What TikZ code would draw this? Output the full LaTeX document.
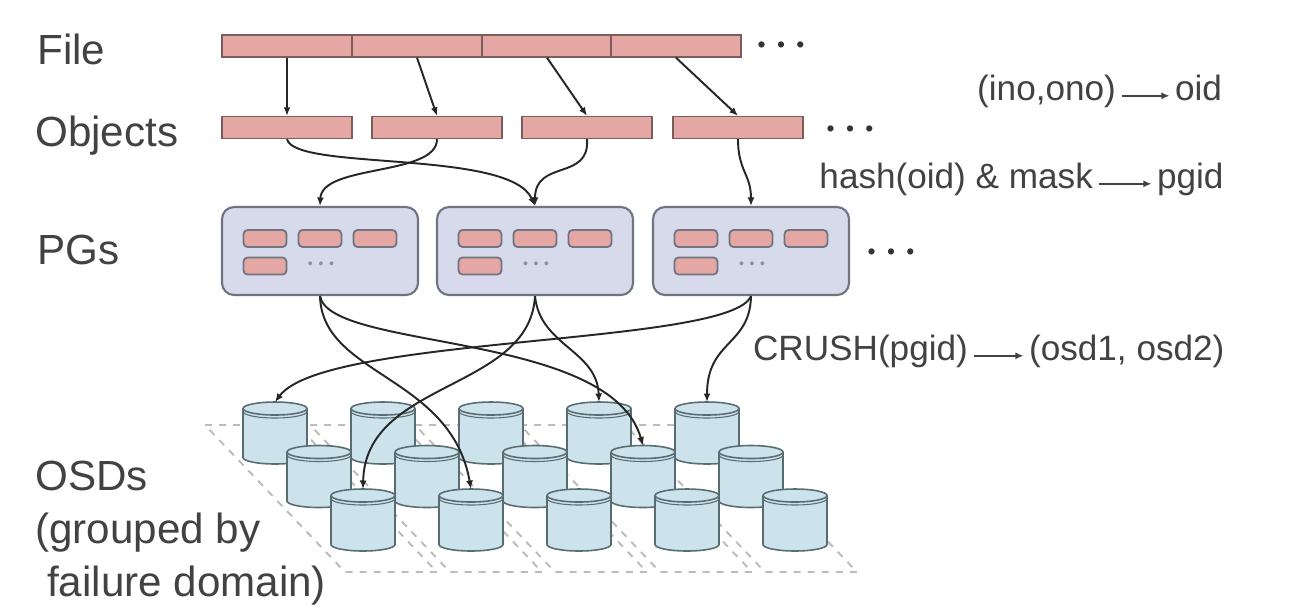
\documentclass[tikz,border=0pt]{standalone}
\usepackage{fontspec}
\setmainfont{Liberation Sans}
\definecolor{barpink}{RGB}{228,167,164}
\definecolor{barline}{RGB}{125,92,92}
\definecolor{pglav}{RGB}{214,218,234}
\definecolor{pgline}{RGB}{112,115,128}
\definecolor{osdblue}{RGB}{205,227,235}
\definecolor{osdline}{RGB}{88,108,114}
\definecolor{inkgray}{RGB}{66,66,66}
\definecolor{gridgray}{RGB}{188,188,188}
\colorlet{linkcol}{black!85}
\usepackage{tikz}
\usetikzlibrary{calc, positioning, arrows.meta, shapes.geometric}

\tikzset{
    bigtext/.style={font=\fontsize{24}{30}\selectfont, text=inkgray, inner sep=0pt},
    maptext/.style={font=\fontsize{20}{24}\selectfont, text=inkgray, inner sep=1pt, text height=1.2ex, text depth=.3ex},
    moredots/.style={font=\fontsize{13}{14}\selectfont, text=black!80, inner sep=0pt},
    tinydots/.style={font=\fontsize{8}{10}\selectfont, text=pgline!80, inner sep=0pt},
    databar/.style={draw=barline, fill=barpink, line width=0.8pt, minimum width=2.6cm, minimum height=0.44cm, inner sep=0pt},
    innerbar/.style={draw=pgline, fill=barpink, line width=1pt, rounded corners=0.08cm},
    pgbox/.style={draw=pgline, fill=pglav, line width=1.2pt, rounded corners=0.24cm, minimum width=3.92cm, minimum height=1.76cm, inner sep=0pt},
    osddisk/.style={rectangle, minimum width=1.28cm, minimum height=1.24cm, inner sep=0pt, outer sep=0pt},
    osdshell/.style={draw=osdline, fill=osdblue, line width=0.9pt},
    osdrim/.style={draw=osdline, line width=0.9pt},
    flow/.style={draw=linkcol, line width=1.1pt, -{Latex[length=1.7mm,width=1.4mm]}},
    maplink/.style={draw=inkgray, line width=1pt, -{Latex[length=1.6mm,width=1.4mm]}, shorten <=2pt, shorten >=2pt},
    faultzone/.style={draw=gridgray, line width=1.1pt, dash pattern=on 4pt off 4pt}
}

\begin{document}
\begin{tikzpicture}[x=0.02cm, y=-0.02cm]
    \useasboundingbox (0,0) rectangle (1316,610);
    \fill[white] (0,0) rectangle (1316,610);
    \foreach \i in {0,...,4}
        \draw[faultzone] (205+105*\i,425) -- (297+105*\i,425) -- (437+105*\i,572) -- (345+105*\i,572) -- cycle;

    \node[bigtext, anchor=base west] (lfile) at (37,64) {File};
    \node[bigtext, anchor=base west] (lobj) at (35,146) {Objects};
    \node[bigtext, anchor=base west] (lpg) at (37,264) {PGs};
    \node[bigtext, anchor=north west, align=left] (losd) at (35,461) {OSDs\\(grouped by\\\hspace*{0.28em}failure domain)};

    \foreach \n/\x in {1/287,2/417,3/547,4/676}
        \node[databar] (f\n) at (\x,46) {};
    \foreach \n/\x in {1/287,2/437,3/587,4/738}
        \node[databar] (o\n) at (\x,127.5) {};
    \node[moredots] (fdots) at (781,47) {\textbullet\hspace{0.5em}\textbullet\hspace{0.5em}\textbullet};
    \node[moredots] (odots) at (850,131) {\textbullet\hspace{0.5em}\textbullet\hspace{0.5em}\textbullet};

    \foreach \n/\x in {1/320,2/535,3/751} {
        \node[pgbox] (p\n) at (\x,251) {};
        \foreach \dx/\dy in {-55/-12.5, 0/-12.5, 55/-12.5, -55/15}
            \draw[innerbar] ($(p\n.center)+(\dx-21.5,\dy-8.5)$) rectangle ++(43,17);
        \node[tinydots] (pd\n) at ($(p\n.center)+(1,14)$) {\textbullet\hspace{0.4em}\textbullet\hspace{0.4em}\textbullet};
    }
    \node[moredots] (pdots) at (891,254) {\textbullet\hspace{0.5em}\textbullet\hspace{0.5em}\textbullet};

    \foreach \r in {0,1,2}
        \foreach \i in {0,...,4} {
            \node[osddisk] (osd\r\i) at (275+108*\i+44*\r,433+43.5*\r) {};
            \draw[osdshell] ($(osd\r\i.north west)+(0,6.5)$) -- ($(osd\r\i.south west)+(0,-6.5)$)
                arc[start angle=180, end angle=360, x radius=0.64cm, y radius=0.13cm]
                -- ($(osd\r\i.north east)+(0,6.5)$)
                arc[start angle=0, end angle=180, x radius=0.64cm, y radius=0.13cm] -- cycle;
            \draw[osdrim] ($(osd\r\i.north west)+(0,6.5)$) arc[start angle=180, end angle=360, x radius=0.64cm, y radius=0.13cm];
            \draw[osdrim, line width=0.6pt] ($(osd\r\i.north west)+(0,9.5)$) arc[start angle=180, end angle=360, x radius=0.64cm, y radius=0.13cm];
        }

    \foreach \n in {1,...,4}
        \draw[flow] (f\n.south) -- (o\n.north);

    \draw[flow] (o1.south) .. controls +(8,32) and +(-25,-57) .. (p2.north);
    \draw[flow] (o2.south) .. controls +(0,37) and +(2,-42) .. (p1.north);
    \draw[flow] (o3.south) .. controls +(3,42) and +(0,-47) .. (p2.north);
    \draw[flow] (o4.south) .. controls +(0,32) and +(0,-32) .. (p3.north);

    \draw[flow] (p1.south) .. controls +(10,55) and +(-33,-115) .. (osd13.north);
    \draw[flow] (p1.south) .. controls +(2,80) and +(-20,-114) .. (osd21.north);
    \draw[flow] (p2.south) .. controls +(-5,95) and +(2,-109) .. (osd20.north);
    \draw[flow] (p2.south) .. controls +(5,50) and +(-2,-52) .. (osd03.north);
    \draw[flow] (p3.south) .. controls +(-20,50) and +(50,-67) .. (osd00.north);
    \draw[flow] (p3.south) .. controls +(-1,50) and +(0,-62) .. (osd04.north);

    \node[maptext, anchor=base east] (ino) at (1118,100) {(ino,ono)};
    \node[maptext, anchor=base west] (oid) at (1173,100) {oid};
    \draw[maplink] (ino) -- (oid);
    \node[maptext, anchor=base east] (hash) at (1095,188) {hash(oid) \& mask};
    \node[maptext, anchor=base west] (pgid) at (1155,188) {pgid};
    \draw[maplink] (hash) -- (pgid);
    \node[maptext, anchor=base east] (crush) at (970,360) {CRUSH(pgid)};
    \node[maptext, anchor=base west] (osdpair) at (1027,360) {(osd1, osd2)};
    \draw[maplink] (crush) -- (osdpair);
\end{tikzpicture}
\end{document}
